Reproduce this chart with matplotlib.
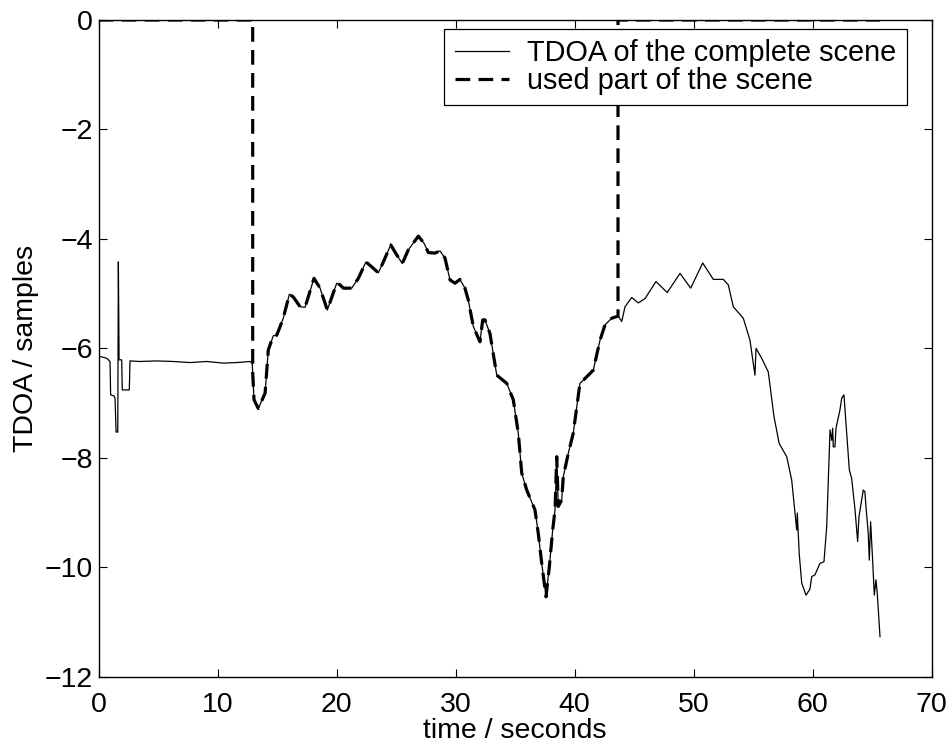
import numpy as np
import matplotlib
matplotlib.use('Agg')
import matplotlib.pyplot as plt

# TDOA trace (time in seconds, TDOA in samples)
time_s = [0.11, 0.67, 0.95, 1.0, 1.29, 1.37, 1.46, 1.6, 1.65, 1.71, 1.93, 1.98, 2.57, 2.63,
          3.47, 4.87, 6.27, 7.67, 9.08, 10.47, 11.6, 12.71, 12.9,
          13.05, 13.41, 13.98, 14.25, 14.67, 14.96, 15.51, 16.02, 16.35, 16.92, 17.34,
          18.09, 18.6, 19.21, 20.0, 20.28, 20.56, 21.26, 21.82, 22.46, 22.94, 23.5,
          23.92, 24.54, 25.04, 25.51, 26.02, 26.86, 27.34, 27.7, 28.26, 28.68, 29.1,
          29.52, 29.94, 30.36, 30.78, 31.06, 31.48, 32.04, 32.27, 32.46, 32.88, 33.45,
          34.29, 34.84, 35.26, 35.55, 35.97, 36.66, 36.94, 37.23, 37.59, 37.87, 38.15,
          38.35, 38.49, 38.62, 38.91, 39.04, 39.46, 39.88, 40.44, 40.87, 41.56, 42.13,
          42.55, 43.11, 43.66, 43.95, 44.23, 44.79, 45.35, 45.91, 46.83, 47.78, 48.85,
          49.75, 50.76, 51.65, 52.49, 52.91, 53.33, 54.17, 54.73, 55.15, 55.24, 55.71,
          56.27, 56.75, 57.19, 57.82, 58.24, 58.66, 58.71, 58.87, 59.08, 59.44, 59.77,
          59.92, 60.19, 60.61, 60.95, 61.18, 61.46, 61.6, 61.68, 61.73, 61.87, 61.96,
          62.29, 62.44, 62.63, 62.86, 63.08, 63.28, 63.56, 63.78, 63.89, 64.12, 64.25,
          64.39, 64.48, 64.67, 64.76, 64.87, 65.04, 65.18, 65.32, 65.43, 65.66]
tdoa = [-6.15, -6.18, -6.24, -6.85, -6.87, -6.91, -7.53, -7.53, -4.42, -6.21, -6.21, -6.76, -6.76, -6.23,
        -6.24, -6.23, -6.24, -6.26, -6.24, -6.27, -6.26, -6.24, -6.27,
        -6.94, -7.10, -6.82, -6.03, -5.77, -5.76, -5.45, -5.01, -5.06, -5.24, -5.25,
        -4.72, -4.90, -5.30, -4.81, -4.84, -4.90, -4.90, -4.72, -4.42, -4.51, -4.62,
        -4.42, -4.11, -4.29, -4.45, -4.20, -3.95, -4.08, -4.25, -4.26, -4.22, -4.35,
        -4.75, -4.81, -4.74, -4.90, -5.12, -5.60, -5.88, -5.48, -5.48, -5.73, -6.49,
        -6.64, -6.94, -7.55, -8.28, -8.59, -8.95, -9.38, -9.93, -10.54, -9.99, -9.32,
        -8.95, -7.98, -8.89, -8.77, -8.35, -7.92, -7.55, -6.64, -6.55, -6.40, -5.85,
        -5.57, -5.45, -5.41, -5.51, -5.24, -5.07, -5.17, -5.09, -4.78, -4.98, -4.63,
        -4.90, -4.44, -4.74, -4.74, -4.84, -5.24, -5.45, -5.85, -6.49, -6.00, -6.18,
        -6.43, -7.25, -7.74, -7.98, -8.41, -9.32, -9.01, -9.75, -10.29, -10.51, -10.40,
        -10.17, -10.14, -9.93, -9.90, -9.26, -7.49, -7.68, -7.46, -7.80, -7.80, -7.46,
        -7.13, -6.91, -6.85, -7.55, -8.22, -8.38, -8.95, -9.53, -9.08, -8.77, -8.59,
        -8.62, -8.89, -9.38, -9.87, -9.17, -9.87, -10.51, -10.23, -10.48, -11.27]

# used part of the scene (start/end in seconds), zero elsewhere
used_start = 12.94
used_end = 43.64
scene_end = 65.66

t = np.array(time_s)
y = np.array(tdoa)
inside = (t > used_start) & (t < used_end)
y0 = np.interp(used_start, t, y)
y1 = np.interp(used_end, t, y)
t_used = np.concatenate([[0, used_start, used_start], t[inside], [used_end, used_end, scene_end]])
y_used = np.concatenate([[0, 0, y0], y[inside], [y1, 0, 0]])

plt.rcParams['font.family'] = ['Liberation Sans', 'DejaVu Sans']
fig = plt.figure(figsize=(9.53, 7.46), dpi=100)
ax = fig.add_axes([0.1036, 0.0929, 0.874, 0.8803])

ax.plot(t, y, color='black', linewidth=0.9, label='TDOA of the complete scene')
ax.plot(t_used, y_used, color='black', linewidth=2.3, linestyle=(0, (4.6, 2.6)),
        label='used part of the scene')

ax.set_xlim(0, 70)
ax.set_ylim(-12, 0)
ax.set_xticks(np.arange(0, 71, 10))
ax.set_yticks(np.arange(-12, 1, 2))
ax.tick_params(direction='in', length=6, width=0.8, top=True, right=True, labelsize=20.5)
ax.tick_params(axis='x', pad=11)
ax.tick_params(axis='y', pad=4)
for s in ax.spines.values():
    s.set_linewidth(1.0)

ax.set_xlabel('time / seconds', fontsize=20.5, labelpad=0)
ax.set_ylabel('TDOA / samples', fontsize=20.5, labelpad=4)

leg = ax.legend(loc='upper right', bbox_to_anchor=(0.970, 0.9863), borderaxespad=0,
                fontsize=20.8, fancybox=False, framealpha=1, edgecolor='black',
                handlelength=1.9, borderpad=0.35, labelspacing=0.0, handletextpad=0.62)
leg.get_frame().set_linewidth(0.9)

fig.savefig('out.png', dpi=100)
